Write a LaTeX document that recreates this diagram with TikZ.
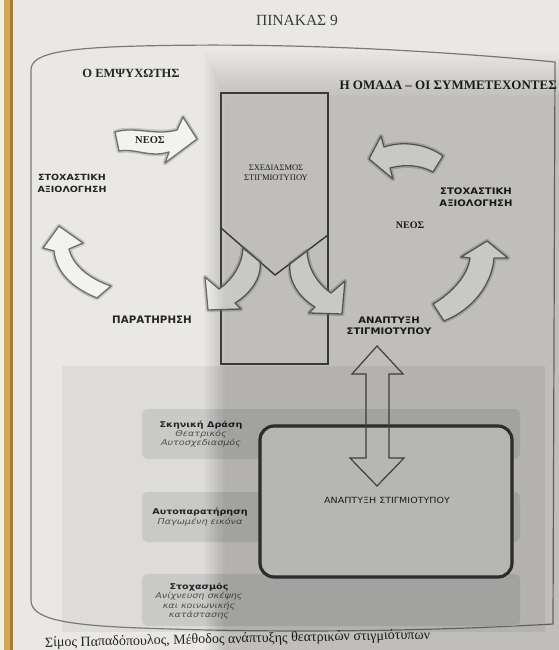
\documentclass[tikz,border=0pt]{standalone}
\usepackage{fontspec}
\setmainfont{Liberation Serif}
\newfontfamily\lblsans[FakeStretch=1.12]{DejaVu Sans}
\newfontfamily\lblplain{DejaVu Sans}
\newfontfamily\tabsans[FakeStretch=1.2]{DejaVu Sans}
\definecolor{page}{HTML}{E9E8E4}
\definecolor{edgewhite}{HTML}{F3EFE6}
\definecolor{ink}{HTML}{252525}
\definecolor{inkgray}{HTML}{505050}
\definecolor{framec}{HTML}{7A7A7A}
\definecolor{arrowline}{HTML}{6E6E6E}
\definecolor{arrowfill}{HTML}{F2F2F0}
\definecolor{stripc}{HTML}{C9C9C7}
\definecolor{rectfill}{HTML}{E0E0DD}
\definecolor{gold}{HTML}{CFA95A}
\definecolor{golddark}{HTML}{A87A35}
\begin{document}
\begin{tikzpicture}[x=1pt,y=-1pt,
  serifbold/.style={font=\bfseries\fontsize{12.5}{14}\selectfont, text=ink, inner sep=0pt},
  capslbl/.style={font=\lblsans\bfseries\fontsize{8.5}{12}\selectfont, align=center, text=ink, inner sep=0pt},
  tabtxt/.style={font=\tabsans\fontsize{8}{9.3}\selectfont, align=center, text=ink, inner sep=0pt},
  blockarrow/.style={fill=arrowfill, draw=arrowline, line width=1.3pt, line join=round,
     preaction={draw=gray, line width=4.5pt, opacity=0.35, line join=round}},
  boxline/.style={draw=ink!85, line width=1.4pt, line join=miter},
  stripbox/.style={fill=stripc, rounded corners=6pt},
  framebox/.style={draw=framec, line width=1.2pt}
]
\useasboundingbox (0,0) rectangle (559,650);
% page and book edge
\fill[page] (0,0) rectangle (559,650);
\fill[edgewhite] (0,0) rectangle (4,650);
\fill[gold] (4,0) rectangle (10,650);
\fill[golddark] (10,0) rectangle (12.5,650);
% faint lower panel
\fill[black, opacity=0.05] (62,366) rectangle (545,632);

% outer frame
\draw[framebox] (31,70) .. controls (31,54) and (60,48) .. (140,46)
   .. controls (300,42) and (450,52) .. (555,62) -- (553,624)
   .. controls (450,630) and (300,634) .. (140,628)
   .. controls (60,625) and (31,618) .. (31,600) -- cycle;

% title and headings
\node[font=\fontsize{15.5}{17}\selectfont, text=ink!90, inner sep=0pt] (title) at (297,20) {ΠΙΝΑΚΑΣ 9};
\node[serifbold] (anim) at (131,73) {Ο ΕΜΨΥΧΩΤΗΣ};
\node[serifbold, font=\bfseries\fontsize{13}{15}\selectfont, anchor=east] (group) at (557,85) {Η ΟΜΑΔΑ – ΟΙ ΣΥΜΜΕΤΕΧΟΝΤΕΣ};

% central planning box
\draw[boxline] (221,93) rectangle (328,364);
\draw[boxline] (221,228) -- (275,275) -- (328,235);
\node[font=\fontsize{8.5}{10}\selectfont, text=ink, align=center, inner sep=0pt] (plan) at (276,173) {ΣΧΕΔΙΑΣΜΟΣ\\ΣΤΙΓΜΙΟΤΥΠΟΥ};

% block arrows of the cycle
% A: ΝΕΟΣ (top left)
\draw[blockarrow] (115,132) .. controls (135,126) and (155,136) .. (177,130) -- (183,117) -- (197,139)
   -- (165,163) -- (169,152) .. controls (150,158) and (135,148) .. (119,151) -- cycle;
\node[font=\bfseries\fontsize{10.5}{12}\selectfont, text=ink, inner sep=0pt] (neosL) at (150,140) {ΝΕΟΣ};
% B: left curved, up
\draw[blockarrow] (97,298) .. controls (72,288) and (56,272) .. (54,251) -- (43,248) -- (59,226)
   -- (83,243) -- (69,249) .. controls (73,265) and (88,278) .. (111,286) -- cycle;
% C: top right, pointing left
\draw[blockarrow] (369,159) -- (381,136) -- (384,147) .. controls (405,140) and (428,145) .. (443,156)
   -- (433,172) .. controls (420,165) and (405,164) .. (390,168) -- (393,179) -- cycle;
% D: bottom right, curved up
\draw[blockarrow] (433,304) .. controls (452,293) and (468,275) .. (470,258) -- (461,257) -- (487,241)
   -- (508,258) -- (494,258) .. controls (492,285) and (472,310) .. (444,321) -- cycle;
% E: from chevron, down-left
\draw[blockarrow] (243,248) -- (260,262) .. controls (262,278) and (250,294) .. (235,303) -- (241,309)
   -- (208,310) -- (205,277) -- (219,289) .. controls (232,280) and (242,265) .. (243,248) -- cycle;
% F: from chevron, down-right
\draw[blockarrow] (307,251) -- (290,264) .. controls (288,282) and (300,298) .. (315,307) -- (309,313)
   -- (342,314) -- (345,281) -- (331,293) .. controls (318,284) and (308,269) .. (307,251) -- cycle;

% cycle labels
\node[capslbl] (stoxL) at (72,183) {ΣΤΟΧΑΣΤΙΚΗ\\ΑΞΙΟΛΟΓΗΣΗ};
\node[capslbl, font=\lblsans\bfseries\fontsize{9}{11.5}\selectfont] (stoxR) at (476,197) {ΣΤΟΧΑΣΤΙΚΗ\\ΑΞΙΟΛΟΓΗΣΗ};
\node[font=\bfseries\fontsize{10}{12}\selectfont, text=ink, inner sep=0pt] (neosR) at (410,225) {ΝΕΟΣ};
\node[font=\lblplain\bfseries\fontsize{10.3}{12}\selectfont, text=ink, inner sep=0pt] (parat) at (152,320) {ΠΑΡΑΤΗΡΗΣΗ};
\node[capslbl, font=\lblsans\bfseries\fontsize{9}{11}\selectfont] (anapt) at (389,326) {ΑΝΑΠΤΥΞΗ\\ΣΤΙΓΜΙΟΤΥΠΟΥ};

% lower part: strips
\fill[stripbox] (142,409) rectangle (520,459);
\fill[stripbox] (142,492) rectangle (520,542);
\fill[stripbox] (142,574) rectangle (520,626);
\node[tabtxt] (tab1) at (201,434) {{\bfseries Σκηνική Δράση}\\{\itshape\color{inkgray}Θεατρικός}\\{\itshape\color{inkgray}Αυτοσχεδιασμός}};
\node[tabtxt] (tab2) at (200,517) {{\bfseries Αυτοπαρατήρηση}\\{\itshape\color{inkgray}Παγωμένη εικόνα}};
\node[tabtxt] (tab3) at (199,601) {{\bfseries Στοχασμός}\\{\itshape\color{inkgray}Ανίχνευση σκέψης}\\{\itshape\color{inkgray}και κοινωνικής}\\{\itshape\color{inkgray}κατάστασης}};

% big rounded rectangle
\draw[fill=rectfill, draw=ink!90, line width=3.2pt, rounded corners=14pt] (260,426) rectangle (512,577);
\node[font=\lblsans\fontsize{8.5}{10}\selectfont, text=ink, inner sep=0pt] (bigtxt) at (387,500) {ΑΝΑΠΤΥΞΗ ΣΤΙΓΜΙΟΤΥΠΟΥ};

% double block arrow
\draw[draw=inkgray, line width=1.2pt, line join=miter] (377,346) -- (403,374) -- (389,374) -- (389,458)
   -- (404,458) -- (377,486) -- (350,458) -- (366,458) -- (366,374) -- (352,374) -- cycle;

% caption below the frame
\node[font=\fontsize{14}{16}\selectfont, text=ink, rotate=1.2, anchor=base west, inner sep=0pt] (cap) at (45,647)
   {Σίμος Παπαδόπουλος, Μέθοδος ανάπτυξης θεατρικών στιγμιότυπων};

% photographic shadow over the right part (soft edged)
\foreach \i in {0,...,13} {
  \fill[black, opacity=0.013] (204+1.6*\i, 52+3.5*\i) rectangle (559,650);
}
\end{tikzpicture}
\end{document}
